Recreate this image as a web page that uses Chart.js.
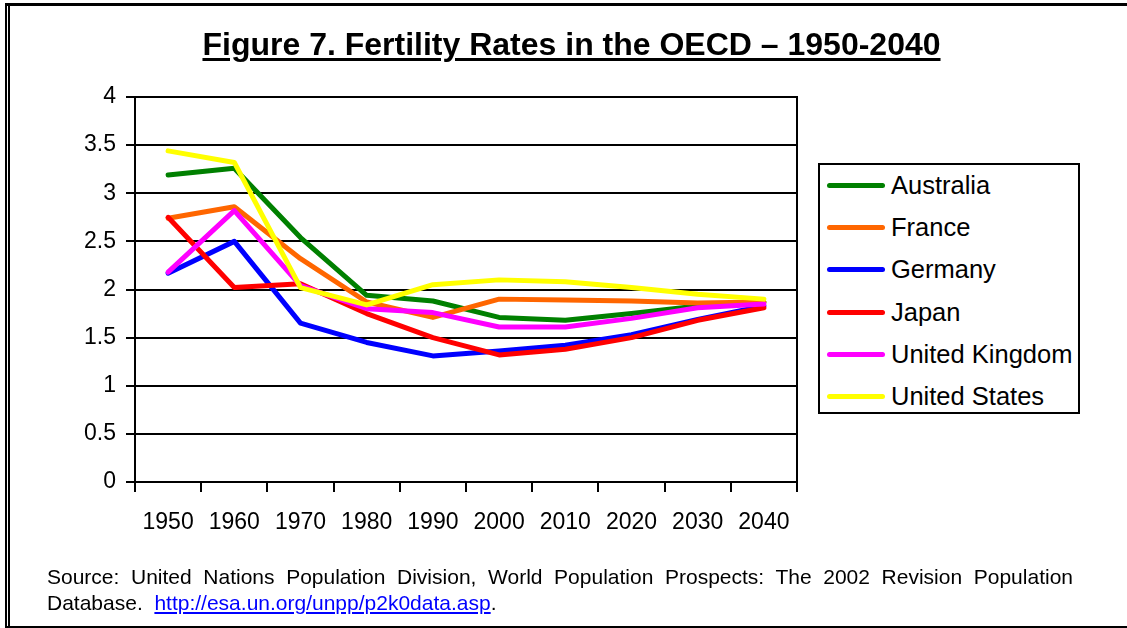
<!DOCTYPE html>
<html>
<head>
<meta charset="utf-8">
<script src="https://cdn.jsdelivr.net/npm/chart.js@4.4.1/dist/chart.umd.min.js"></script>
<style>
  html, body { margin: 0; padding: 0; background: #fff; }
  body { width: 1127px; height: 628px; position: relative; overflow: hidden; font-family: Arial, "Liberation Sans", sans-serif; }
  #wrap { position: absolute; left: 0; top: 0; width: 1127px; height: 628px; }
  .frame { position: absolute; background: #000; }
  #title { position: absolute; left: 8px; width: 1127px; top: 25px; text-align: center; font-weight: bold; font-size: 32px; line-height: 38px; text-decoration: underline; text-decoration-thickness: 3px; text-underline-offset: 3px; color: #000; }
  #legend { position: absolute; left: 818px; top: 163px; width: 262px; height: 251px; border: 2px solid #000; box-sizing: border-box; background: #fff; }
  .lrow { position: absolute; left: 0; height: 30px; display: flex; align-items: center; }
  .lline { width: 58px; height: 5px; border-radius: 3px; margin-left: 7px; margin-right: 6px; }
  .ltext { font-size: 25.5px; color: #000; white-space: nowrap; }
  #source { position: absolute; left: 47px; width: 1026px; top: 564px; font-size: 21px; line-height: 26px; color: #000; }
  #src1 { text-align: justify; text-align-last: justify; white-space: normal; }
  #src2 { text-align: left; white-space: pre; }
  #source a { color: #0000ff; text-decoration: underline; }
</style>
</head>
<body>
<div id="wrap"><canvas id="c" width="1127" height="628"></canvas></div>
<div class="frame" style="left:5px;top:3px;width:1122px;height:3px;"></div>
<div class="frame" style="left:5px;top:3px;width:2px;height:625px;"></div>
<div class="frame" style="left:8px;top:6px;width:2px;height:622px;"></div>
<div class="frame" style="left:5px;top:626px;width:1122px;height:2px;"></div>
<div id="title">Figure 7. Fertility Rates in the OECD – 1950-2040</div>
<div id="legend"></div>
<div id="source"><div id="src1">Source: United Nations Population Division, World Population Prospects: The 2002 Revision Population</div><div id="src2">Database.  <a href="http://esa.un.org/unpp/p2k0data.asp">http://esa.un.org/unpp/p2k0data.asp</a>.</div></div>
<script>
const years = ['1950','1960','1970','1980','1990','2000','2010','2020','2030','2040'];
const seriesNames = ['Australia','France','Germany','Japan','United Kingdom','United States'];
const seriesColors = ['#008000','#FF6600','#0000FF','#FF0000','#FF00FF','#FFFF00'];
const australia = [3.19, 3.26, 2.54, 1.94, 1.88, 1.71, 1.68, 1.75, 1.83, 1.87];
const france    = [2.74, 2.86, 2.32, 1.87, 1.71, 1.90, 1.89, 1.88, 1.86, 1.87];
const germany   = [2.17, 2.50, 1.65, 1.45, 1.31, 1.36, 1.42, 1.53, 1.69, 1.83];
const japan     = [2.75, 2.02, 2.06, 1.75, 1.50, 1.32, 1.38, 1.50, 1.68, 1.81];
const uk        = [2.18, 2.82, 2.04, 1.80, 1.76, 1.61, 1.61, 1.70, 1.81, 1.85];
const us        = [3.44, 3.32, 2.02, 1.84, 2.05, 2.10, 2.08, 2.02, 1.95, 1.90];
const yTickValues = [0, 0.5, 1, 1.5, 2, 2.5, 3, 3.5, 4];
const yTickLabels = ['0', '0.5', '1', '1.5', '2', '2.5', '3', '3.5', '4'];

const allSeries = [australia, france, germany, japan, uk, us];

const datasets = allSeries.map((vals, i) => ({
  label: seriesNames[i],
  data: vals,
  borderColor: seriesColors[i],
  backgroundColor: seriesColors[i],
  borderWidth: 5,
  pointRadius: 0,
  pointHoverRadius: 0,
  tension: 0,
  fill: false,
  borderCapStyle: 'round',
  borderJoinStyle: 'round',
  order: allSeries.length - i
}));

const rightBorder = {
  id: 'rightBorder',
  afterDraw(chart) {
    const a = chart.chartArea, ctx = chart.ctx;
    ctx.save();
    ctx.strokeStyle = '#000';
    ctx.lineWidth = 2;
    ctx.beginPath();
    ctx.moveTo(a.right, a.top - 1);
    ctx.lineTo(a.right, a.bottom + 10);
    ctx.stroke();
    ctx.restore();
  }
};

const chart = new Chart(document.getElementById('c'), {
  type: 'line',
  data: { labels: years, datasets },
  plugins: [rightBorder],
  options: {
    responsive: false,
    animation: false,
    devicePixelRatio: 1,
    layout: { padding: { left: 0, top: 97, right: 330, bottom: 0 } },
    plugins: { legend: { display: false }, title: { display: false }, tooltip: { enabled: false } },
    scales: {
      x: {
        type: 'category',
        offset: true,
        afterFit(s) { s.height = 146; },
        grid: { offset: true, drawOnChartArea: false, drawTicks: true, tickLength: 10, color: '#000', tickColor: '#000', lineWidth: 2 },
        border: { display: true, color: '#000', width: 2 },
        ticks: { color: '#000', padding: 17, maxRotation: 0, autoSkip: false, font: { family: 'Arial, "Liberation Sans", sans-serif', size: 23 } }
      },
      y: {
        min: 0, max: 4,
        afterFit(s) { s.width = 135; },
        afterBuildTicks(s) { s.ticks = yTickValues.map(v => ({ value: v })); },
        grid: { color: '#000', tickColor: '#000', lineWidth: 2, tickLength: 9, drawTicks: true },
        border: { display: true, color: '#000', width: 2 },
        ticks: {
          color: '#000', padding: 10,
          callback: (v) => yTickLabels[yTickValues.indexOf(Number(v))],
          font: { family: 'Arial, "Liberation Sans", sans-serif', size: 23 }
        }
      }
    }
  }
});

const legendEl = document.getElementById('legend');
chart.data.datasets.forEach((ds, i) => {
  const row = document.createElement('div');
  row.className = 'lrow';
  row.style.top = (5.5 + i * 42.2) + 'px';
  const line = document.createElement('div');
  line.className = 'lline';
  line.style.background = ds.borderColor;
  const txt = document.createElement('span');
  txt.className = 'ltext';
  txt.textContent = ds.label;
  row.appendChild(line); row.appendChild(txt);
  legendEl.appendChild(row);
});
</script>
</body>
</html>
